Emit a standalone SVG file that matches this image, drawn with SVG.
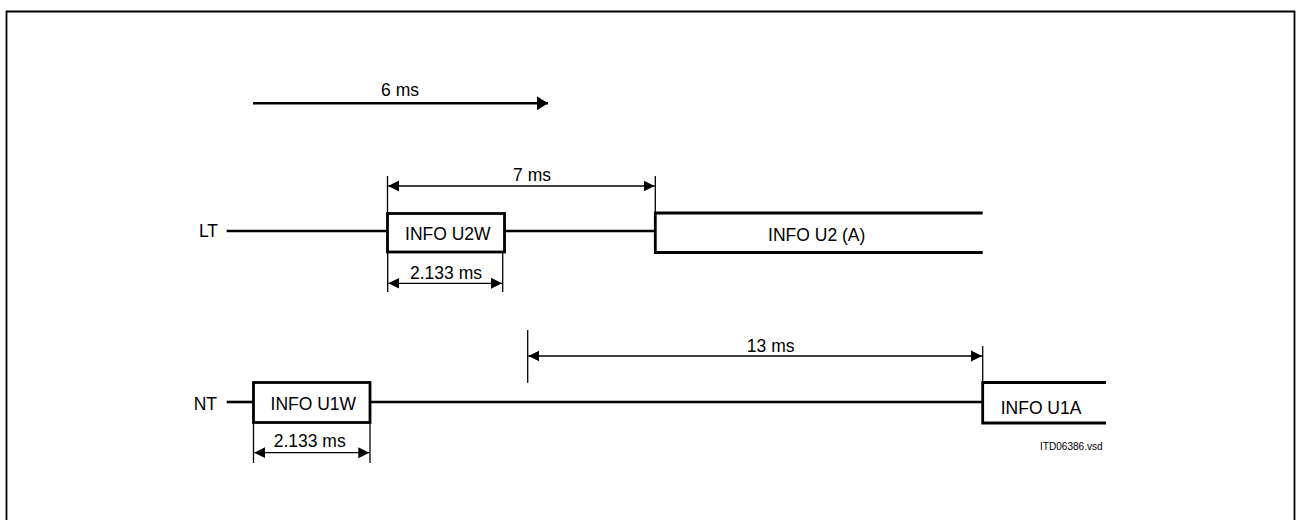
<svg xmlns="http://www.w3.org/2000/svg" width="1296" height="520" viewBox="0 0 1296 520">
<defs>
<style>
text{font-family:"Liberation Sans",Arial,sans-serif;font-size:17.5px;fill:#000}
.sig{stroke:#000;stroke-width:2.6;fill:none}
.box{stroke:#000;stroke-width:2.8;fill:#fff}
.open{stroke:#000;stroke-width:2.8;fill:none}
.dim{stroke:#000;stroke-width:1.3;fill:none;marker-start:url(#ah);marker-end:url(#ah)}
.ext{stroke:#000;stroke-width:1.3;fill:none}
.mid{text-anchor:middle}
.end{text-anchor:end}
</style>
<marker id="ah" markerUnits="userSpaceOnUse" markerWidth="12" markerHeight="12" viewBox="0 0 12 12" refX="11" refY="6" orient="auto-start-reverse">
<path d="M0,0.5 L11,6 L0,11.5 Z" fill="#000"/>
</marker>
<marker id="ahb" markerUnits="userSpaceOnUse" markerWidth="12" markerHeight="14" viewBox="0 0 12 14" refX="11" refY="7" orient="auto">
<path d="M0,0 L11,7 L0,14 Z" fill="#000"/>
</marker>
</defs>
<rect width="1296" height="520" fill="#fff"/>
<path d="M6.5,521 V11.5 H1294.5 V521" fill="none" stroke="#000" stroke-width="1.8"/>

<g id="connectors">
<line x1="253" y1="103.3" x2="548" y2="103.3" stroke="#000" stroke-width="2.6" marker-end="url(#ahb)"/>
<line class="sig" x1="226.7" y1="231" x2="387.5" y2="231"/>
<line class="sig" x1="504.5" y1="231" x2="655.3" y2="231"/>
<line class="sig" x1="226.7" y1="402" x2="253.5" y2="402"/>
<line class="sig" x1="370" y1="402" x2="982.7" y2="402"/>
<line class="ext" x1="387.5" y1="176" x2="387.5" y2="213"/>
<line class="ext" x1="655.3" y1="176" x2="655.3" y2="213"/>
<line class="dim" x1="388.2" y1="186" x2="654.6" y2="186"/>
<line class="ext" x1="387.7" y1="252" x2="387.7" y2="292"/>
<line class="ext" x1="502.7" y1="252" x2="502.7" y2="292"/>
<line class="dim" x1="388.4" y1="283.3" x2="502" y2="283.3"/>
<line class="ext" x1="253.5" y1="422" x2="253.5" y2="463"/>
<line class="ext" x1="370" y1="422" x2="370" y2="463"/>
<line class="dim" x1="254.2" y1="452.7" x2="369.3" y2="452.7"/>
<line class="ext" x1="527.7" y1="330" x2="527.7" y2="382.7"/>
<line class="ext" x1="982.7" y1="346" x2="982.7" y2="382.5"/>
<line class="dim" x1="528.4" y1="356" x2="982" y2="356"/>
<text class="mid" x="400" y="96">6 ms</text>
<text class="mid" x="532" y="180.7">7 ms</text>
<text class="mid" x="446" y="279">2.133 ms</text>
<text class="mid" x="309.7" y="446.7">2.133 ms</text>
<text class="mid" x="770.7" y="351.7">13 ms</text>
</g>

<g id="lt">
<text class="end" x="218" y="236.7">LT</text>
</g>
<g id="info-u2w">
<rect class="box" x="387.5" y="213.5" width="117" height="38.5"/>
<text class="mid" x="447.8" y="240.3">INFO U2W</text>
</g>
<g id="info-u2a">
<path class="open" d="M982.7,213 H655.3 V252.5 H982.7"/>
<text class="mid" x="816.7" y="241">INFO U2 (A)</text>
</g>
<g id="nt">
<text class="end" x="217" y="410">NT</text>
</g>
<g id="info-u1w">
<rect class="box" x="253.5" y="382.5" width="116.5" height="40"/>
<text class="mid" x="313.3" y="410">INFO U1W</text>
</g>
<g id="info-u1a">
<path class="open" d="M1106,382.5 H982.7 V423 H1106"/>
<text x="1000.7" y="414">INFO U1A</text>
</g>
<text x="1040" y="450" style="font-size:10px" textLength="62.7" lengthAdjust="spacingAndGlyphs">ITD06386.vsd</text>
</svg>
